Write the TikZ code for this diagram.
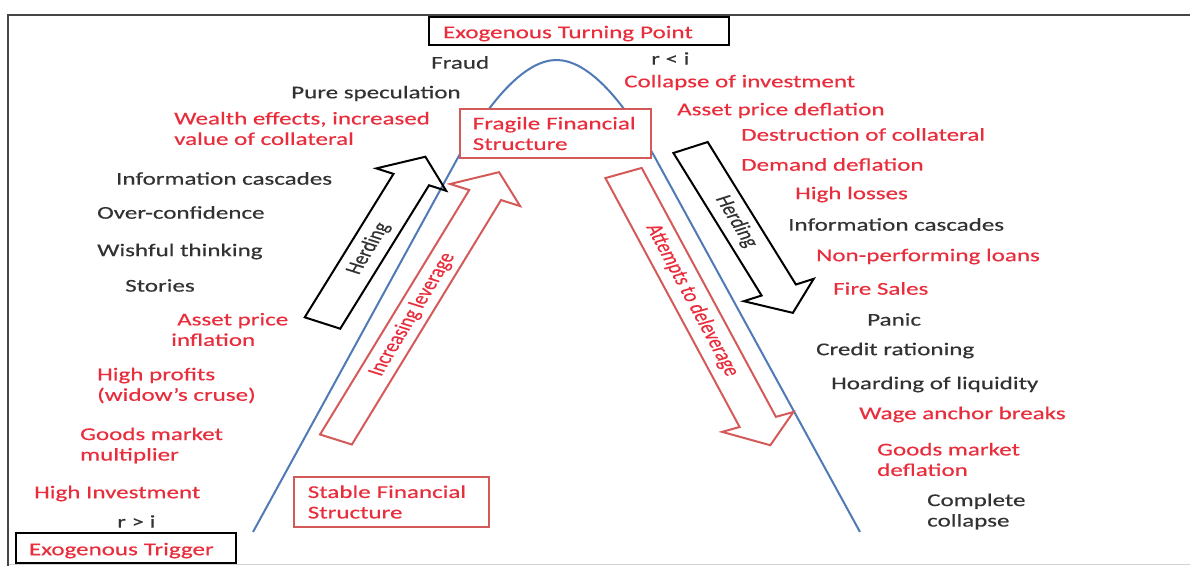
\documentclass[tikz,border=0pt]{standalone}
\usepackage{fontspec}
\setmainfont[FakeStretch=1.39,FakeBold=0.4]{Carlito}
\newfontfamily\rotfont[FakeBold=0.4]{Carlito}
\definecolor{txtred}{RGB}{232,45,60}
\definecolor{txtgray}{RGB}{50,50,50}
\definecolor{boxred}{RGB}{212,90,90}
\definecolor{curveblue}{RGB}{79,122,182}
\definecolor{framegray}{RGB}{70,70,70}
\tikzset{
  txt/.style={inner sep=0pt, anchor=west, align=left, font=\fontsize{18}{20.5}\selectfont},
  lbl/.style={txt, yshift=-1.5pt},
  box/.style={txt, fill=white, inner ysep=3pt},
  shaftlbl/.style={inner sep=0pt, transform shape, font=\rotfont\fontsize{17}{19}\selectfont}
}
% #1 outline, #2 text colour, #3 tail, #4 angle, #5 length, #6 half shaft, #7 name, #8 label
\newcommand{\blockarrow}[8]{%
  \begin{scope}[shift={#3}, rotate=#4]
    \draw[#1, line width=2pt, line join=miter] (0,-#6) -- (#5-25,-#6) -- (#5-25,-27.5) -- (#5,0) -- (#5-25,27.5) -- (#5-25,#6) -- (0,#6) -- cycle;
    \node[shaftlbl, text=#2] (#7) at ({(#5-25)/2+3},0) {#8};
  \end{scope}}
\begin{document}
\begin{tikzpicture}[x=1pt,y=-1pt]
\useasboundingbox (0,0) rectangle (1190,566);
\draw[gray!35] (8,564.5) -- (1190,564.5);
\draw[framegray, line width=2pt] (8,566) -- (8,15) -- (1190,15);
\draw[curveblue, line width=2pt] (253,532) -- (455,163) .. controls (493,93) and (528,60) .. (556.5,60) .. controls (585,60) and (620,93) .. (658,163) -- (860,532);
\begin{scope}[xscale=1.39]
\blockarrow{black}{txtgray}{(232,323)}{66.0}{182}{14}{herdup}{Herding}
\blockarrow{boxred}{txtred}{(241.7,439.5)}{66.3}{292}{12.5}{lever}{Increasing leverage}
\blockarrow{black}{txtgray}{(496.8,147.5)}{-66.0}{181}{13.5}{herddown}{Herding}
\blockarrow{boxred}{txtred}{(448.6,173)}{-68.8}{292}{14}{delever}{Attempts to deleverage}
\end{scope}
\node[box, draw=black, line width=2pt, text=txtred, minimum height=28pt, inner xsep=14pt, text width=272pt, text height=17.5pt] (turn) at (428,31) {\mbox{Exogenous Turning Point}};
\node[box, draw=black, line width=2pt, text=txtred, minimum height=30pt, inner xsep=13pt, text width=194pt, text height=17.5pt] (trigger) at (15,548) {\mbox{Exogenous Trigger}};
\node[box, draw=boxred, line width=1.6pt, text=txtred, minimum height=49pt, inner xsep=13pt, text width=165pt] (fragile) at (459,133.5) {\mbox{Fragile Financial}\\Structure};
\node[box, draw=boxred, line width=1.6pt, text=txtred, minimum height=50pt, inner xsep=14pt, text width=167pt] (stable) at (293,502) {\mbox{Stable Financial}\\Structure};
\node[lbl, text=txtgray] (fraud) at (431,61) {Fraud};
\node[lbl, text=txtgray] (purespec) at (291,92) {Pure speculation};
\node[lbl, text=txtred] (wealth) at (174,127) {Wealth effects, increased\\value of collateral};
\node[lbl, text=txtgray] (infoleft) at (116,177) {Information cascades};
\node[lbl, text=txtgray] (overconf) at (97,211) {Over-confidence};
\node[lbl, text=txtgray] (wishful) at (97,250) {Wishful thinking};
\node[lbl, text=txtgray] (stories) at (125,284) {Stories};
\node[lbl, text=txtred] (assetinf) at (171,328) {\hspace*{6pt}Asset price\\inflation};
\node[lbl, text=txtred] (profits) at (97,384) {High profits\\(widow’s cruse)};
\node[lbl, text=txtred] (goodsmult) at (80,444) {Goods market\\multiplier};
\node[lbl, text=txtred] (highinv) at (34,492) {High Investment};
\node[lbl, text=txtgray] (rgreater) at (117,520) {r > i};
\node[lbl, text=txtgray] (rless) at (651,57) {r < i};
\node[lbl, text=txtred] (collapseinv) at (624,81) {Collapse of investment};
\node[lbl, text=txtred] (assetdef) at (677,109) {Asset price deflation};
\node[lbl, text=txtred] (destruct) at (741,133) {Destruction of collateral};
\node[lbl, text=txtred] (demand) at (741,163) {Demand deflation};
\node[lbl, text=txtred] (losses) at (795,193) {High losses};
\node[lbl, text=txtgray] (inforight) at (788,223) {Information cascades};
\node[lbl, text=txtred] (npl) at (816,255) {Non-performing loans};
\node[lbl, text=txtred] (firesales) at (833,287) {Fire Sales};
\node[lbl, text=txtgray] (panic) at (867,318) {Panic};
\node[lbl, text=txtgray] (credit) at (816,349) {Credit rationing};
\node[lbl, text=txtgray] (hoard) at (831,383) {Hoarding of liquidity};
\node[lbl, text=txtred] (wage) at (859,413) {Wage anchor breaks};
\node[lbl, text=txtred] (goodsdef) at (877,458) {Goods market\\deflation};
\node[lbl, text=txtgray] (complete) at (927,510) {Complete\\collapse};
\end{tikzpicture}
\end{document}
